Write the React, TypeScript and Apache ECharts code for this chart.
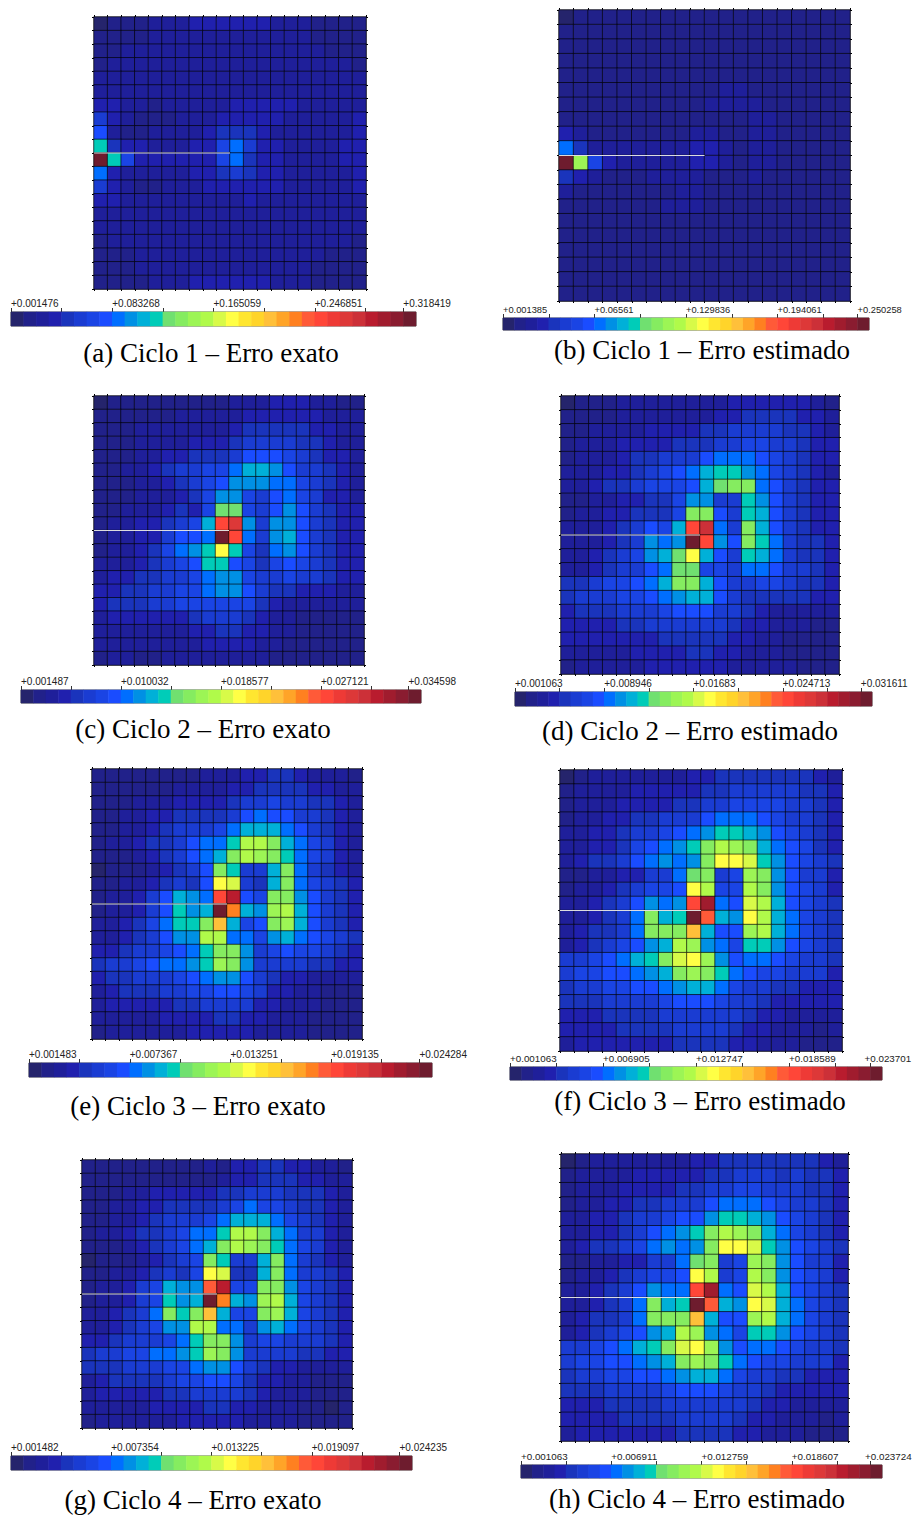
import React, { useEffect, useRef } from "react";
import * as echarts from "echarts";

const palette = [
  "#25246c", "#21218a", "#1f1f9a", "#2020ae", "#1a34bc", "#1a3cd2", "#1a44e4", "#1a4cff",
  "#006eff", "#0090e4", "#00b0d8", "#00ccb8", "#70e070", "#85ec60", "#9cf555", "#b0fa4a",
  "#d8fa48", "#ffff45", "#ffe630", "#ffd42a", "#ffc03a", "#ffa428", "#ff8020", "#ff5a38",
  "#ff4638", "#ee3a36", "#dd3838", "#cc3038", "#b91c2e", "#a01c2e", "#8a1c30", "#6e1c2e",
];

const captions = [
  "(a) Ciclo 1 – Erro exato", "(b) Ciclo 1 – Erro estimado",
  "(c) Ciclo 2 – Erro exato", "(d) Ciclo 2 – Erro estimado",
  "(e) Ciclo 3 – Erro exato", "(f) Ciclo 3 – Erro estimado",
  "(g) Ciclo 4 – Erro exato", "(h) Ciclo 4 – Erro estimado",
];

const tickLabels = [
  ["+0.001476", "+0.083268", "+0.165059", "+0.246851", "+0.318419"],
  ["+0.001385", "+0.06561", "+0.129836", "+0.194061", "+0.250258"],
  ["+0.001487", "+0.010032", "+0.018577", "+0.027121", "+0.034598"],
  ["+0.001063", "+0.008946", "+0.01683", "+0.024713", "+0.031611"],
  ["+0.001483", "+0.007367", "+0.013251", "+0.019135", "+0.024284"],
  ["+0.001063", "+0.006905", "+0.012747", "+0.018589", "+0.023701"],
  ["+0.001482", "+0.007354", "+0.013225", "+0.019097", "+0.024235"],
  ["+0.001063", "+0.006911", "+0.012759", "+0.018607", "+0.023724"],
];

// Colour band (0-31) of each cell, top row first.
const cicloA = [
  [0,1,1,1,2,2,2,3,3,3,3,3,3,2,2,2,1,1,1,1],
  [1,1,1,1,2,2,2,2,2,2,2,2,2,2,2,2,1,1,1,1],
  [1,1,2,2,2,2,2,2,2,2,2,2,2,2,2,2,2,1,1,1],
  [1,2,2,2,2,2,2,2,2,2,2,2,2,2,2,2,2,2,2,1],
  [2,2,2,2,2,2,2,2,2,2,2,2,2,2,2,2,2,2,2,2],
  [2,2,2,2,2,2,2,2,2,2,2,2,2,2,2,2,2,2,2,2],
  [3,3,2,2,1,2,2,2,2,2,3,3,3,3,3,2,2,2,2,2],
  [5,3,2,1,1,1,2,2,2,3,3,3,3,3,2,2,2,2,2,3],
  [7,2,1,1,2,2,2,2,3,4,4,4,3,2,2,2,2,2,2,3],
  [11,4,3,3,2,2,2,3,3,6,8,5,3,3,2,2,2,2,3,3],
  [31,11,6,3,3,3,3,3,3,6,8,4,3,3,2,2,2,2,3,3],
  [8,3,2,2,2,2,2,3,3,4,5,4,3,3,2,2,2,2,2,3],
  [5,3,2,1,1,2,2,2,3,3,3,3,3,3,2,2,2,2,2,3],
  [3,3,2,2,2,2,2,2,2,2,2,3,2,2,2,2,2,2,2,2],
  [2,2,2,2,2,2,2,2,2,2,2,2,2,2,2,2,2,2,2,2],
  [2,2,2,2,2,2,2,2,2,2,2,2,2,2,2,2,2,2,2,2],
  [1,2,2,2,2,2,2,2,2,2,2,2,2,2,2,2,2,2,2,1],
  [1,1,1,2,2,2,2,2,2,2,2,2,2,2,2,2,2,1,1,1],
  [1,1,1,2,2,2,2,2,2,2,2,2,2,2,2,2,1,1,1,1],
  [1,1,1,1,2,2,2,3,3,3,3,3,3,2,2,2,1,1,1,1],
];
const cicloB = [
  [0,1,1,1,1,1,1,1,1,1,1,1,1,1,1,1,1,1,1,1],
  [1,1,1,1,1,1,1,1,1,1,1,1,1,1,1,1,1,1,1,1],
  [1,1,1,1,1,1,1,1,1,1,1,1,1,1,1,1,1,1,1,1],
  [1,1,1,1,1,1,1,1,1,1,1,1,1,1,1,1,1,1,1,1],
  [1,1,1,1,1,1,1,1,1,1,1,1,1,1,1,1,1,1,1,1],
  [1,1,1,1,1,1,1,1,1,1,1,2,2,1,1,1,1,1,1,1],
  [1,1,1,1,1,1,1,1,1,1,2,2,2,2,1,1,1,1,1,1],
  [1,1,1,1,1,1,1,1,1,1,1,1,1,2,2,1,1,1,1,1],
  [3,2,1,1,1,1,1,1,1,2,2,1,1,2,2,1,1,1,1,1],
  [8,4,2,2,2,2,2,2,2,3,3,2,1,2,2,1,1,1,1,1],
  [31,14,6,3,2,2,2,2,2,3,3,2,1,2,2,1,1,1,1,1],
  [4,3,2,1,1,1,2,2,2,2,1,1,1,2,1,1,1,1,1,1],
  [2,1,1,1,1,1,1,1,2,2,1,1,1,1,1,1,1,1,1,1],
  [1,1,1,1,1,1,1,2,2,2,1,1,1,1,1,1,1,1,1,1],
  [1,1,1,1,1,1,1,1,1,1,1,1,1,1,1,1,1,1,1,1],
  [1,1,1,1,1,1,1,1,1,1,1,1,1,1,1,1,1,1,1,1],
  [1,1,1,1,1,1,1,1,1,1,1,1,1,1,1,1,1,1,1,1],
  [1,1,1,1,1,1,1,1,1,1,1,1,1,1,1,1,1,1,1,1],
  [1,1,1,1,1,1,1,1,1,1,1,1,1,1,1,1,1,1,1,1],
  [1,1,1,1,1,1,1,1,1,1,1,1,1,1,1,1,1,1,1,1],
];
const cicloC = [
  [0,1,1,1,1,1,1,1,1,1,2,2,2,3,3,3,2,2,1,1],
  [1,1,1,1,1,1,2,2,2,2,2,3,3,3,3,3,3,2,2,2],
  [1,1,1,2,2,2,2,2,2,2,3,4,4,4,4,4,3,3,2,2],
  [1,1,1,2,2,2,2,3,3,3,4,5,5,5,5,4,4,3,2,2],
  [1,1,1,2,2,3,3,4,4,4,5,7,7,7,6,5,4,3,3,2],
  [1,1,2,2,3,4,5,5,6,6,8,10,10,9,7,5,5,4,3,2],
  [1,1,1,2,2,3,4,5,6,7,9,9,9,8,8,6,5,4,3,2],
  [1,1,1,2,2,2,3,4,6,9,9,6,5,7,8,6,5,3,3,2],
  [1,1,2,2,2,3,4,3,6,12,12,6,5,7,9,7,5,4,3,3],
  [1,2,2,3,3,4,5,6,10,24,26,9,5,9,9,7,5,4,3,3],
  [1,2,2,3,3,5,7,7,8,31,24,8,5,9,10,7,5,4,3,3],
  [1,2,2,3,4,6,8,9,11,17,11,6,4,8,9,7,5,4,3,3],
  [2,2,2,3,4,5,6,7,11,11,7,6,4,6,7,6,5,4,3,3],
  [2,3,3,4,4,5,5,6,8,9,9,6,5,5,6,5,5,4,3,3],
  [3,3,4,4,5,5,6,6,8,9,9,7,5,4,4,3,3,3,2,2],
  [3,4,4,4,5,5,6,6,6,6,6,6,4,3,2,2,2,2,2,2],
  [2,3,3,3,3,3,3,4,5,5,5,4,3,2,2,1,1,1,1,1],
  [2,2,2,2,2,2,2,3,3,4,4,3,3,2,2,1,1,1,1,1],
  [2,2,2,2,2,2,2,2,3,3,3,3,2,2,1,1,1,1,1,1],
  [1,2,2,1,1,2,2,2,2,2,2,2,2,1,1,1,1,1,1,1],
];
const cicloD = [
  [0,1,1,1,2,2,2,2,2,2,2,2,3,3,3,3,3,3,2,1],
  [1,1,1,1,2,2,2,2,2,2,2,3,3,4,4,4,4,3,3,2],
  [1,1,2,2,2,2,3,3,3,3,4,4,5,5,5,5,4,4,3,2],
  [1,2,2,2,3,3,3,3,4,4,4,5,5,6,6,5,5,4,3,3],
  [1,2,2,2,3,4,4,5,5,5,7,8,8,8,7,6,5,4,3,3],
  [2,2,2,3,3,4,5,6,7,8,10,11,11,9,8,6,5,4,3,2],
  [2,2,3,4,4,5,6,6,6,7,10,12,13,13,8,7,5,4,3,3],
  [1,1,2,2,3,3,4,4,6,9,9,5,5,11,9,7,5,4,3,3],
  [1,2,2,3,3,4,4,4,6,13,13,7,5,11,10,7,5,4,3,3],
  [2,2,2,3,4,5,7,6,10,24,27,8,5,13,10,7,5,4,3,3],
  [2,2,2,3,4,5,9,8,9,31,24,9,7,13,11,8,5,4,4,3],
  [2,2,3,4,5,6,9,10,12,17,10,7,5,11,10,8,5,4,4,3],
  [2,2,3,4,5,5,7,8,12,12,6,6,5,8,8,7,5,5,4,3],
  [4,4,5,6,6,7,8,10,13,13,10,7,5,5,6,6,5,4,4,3],
  [4,5,5,5,6,6,7,8,9,10,10,7,5,4,4,4,4,4,3,3],
  [3,4,4,4,5,5,5,6,7,7,7,5,5,4,3,2,2,2,2,2],
  [3,3,3,3,4,4,5,5,5,5,5,5,4,3,3,2,2,2,1,1],
  [3,3,3,3,3,3,3,4,4,4,4,4,3,3,2,2,1,1,1,1],
  [2,2,2,2,2,3,3,3,3,4,4,3,3,2,2,2,1,1,1,1],
  [1,2,2,2,2,2,3,3,3,3,3,3,2,2,2,2,2,1,1,1],
];
const cicloE = [
  [1,1,1,1,1,1,1,1,2,2,2,3,3,4,4,3,2,2,2,1],
  [1,1,1,1,1,1,2,2,2,2,3,3,4,4,4,4,3,3,2,2],
  [1,1,1,2,2,2,3,3,3,3,4,5,5,6,5,5,4,4,3,2],
  [1,1,2,2,3,3,4,4,4,4,5,7,8,7,7,5,5,4,3,2],
  [1,1,2,2,3,4,5,5,5,6,8,10,10,10,8,7,5,4,3,2],
  [1,2,2,3,4,4,5,7,8,8,11,15,15,13,10,8,6,5,3,2],
  [1,1,1,2,3,4,5,7,8,10,13,15,14,13,11,8,6,5,3,2],
  [0,1,1,1,2,3,4,5,7,13,11,5,5,10,13,8,5,4,3,2],
  [1,1,2,2,3,4,5,4,7,17,16,5,4,10,13,8,6,5,4,3],
  [1,2,2,3,5,7,10,9,8,24,28,7,6,13,13,9,7,5,4,3],
  [1,2,2,3,5,7,11,9,10,31,22,10,9,14,15,10,7,5,4,3],
  [2,2,3,4,6,8,11,11,13,20,10,6,7,13,14,10,7,5,4,3],
  [2,2,3,4,5,7,9,9,15,15,8,8,6,9,10,8,7,6,5,4],
  [3,3,4,5,5,6,7,8,11,13,13,9,5,6,7,6,6,5,4,3],
  [4,5,5,6,7,8,8,9,11,14,13,9,5,5,5,5,4,4,3,3],
  [3,4,4,5,5,5,6,7,8,9,9,7,5,4,3,3,2,2,2,2],
  [2,3,4,4,4,5,5,6,6,7,7,6,5,3,3,2,2,1,1,1],
  [2,3,3,3,3,3,4,4,5,5,5,5,3,3,2,2,2,1,1,1],
  [2,2,2,2,2,3,3,3,3,4,4,3,3,2,2,2,1,1,1,1],
  [1,2,2,2,2,2,2,3,3,3,3,3,2,2,2,2,1,1,1,1],
];
const cicloF = [
  [0,1,2,2,2,2,2,2,2,3,3,4,4,4,4,4,4,4,3,2],
  [1,2,2,2,2,3,3,3,3,3,4,4,5,5,5,5,5,4,4,3],
  [1,2,2,2,3,3,3,3,4,4,5,5,6,6,6,6,5,5,4,3],
  [1,2,2,3,3,4,4,5,5,5,7,8,8,8,7,6,5,5,4,3],
  [2,2,3,3,4,5,5,6,7,8,9,11,11,10,9,7,6,5,4,3],
  [2,2,3,3,4,6,7,8,9,11,13,15,14,13,10,8,7,6,4,3],
  [2,3,4,4,5,7,8,9,8,9,13,17,17,16,11,9,7,6,5,4],
  [1,1,2,2,3,3,5,5,8,12,13,5,6,14,13,9,7,5,5,3],
  [1,2,2,3,4,5,6,6,7,17,15,6,6,15,13,9,7,6,5,3],
  [2,2,3,4,5,7,9,8,9,24,29,8,7,16,15,10,7,6,5,4],
  [2,2,3,4,5,8,13,10,11,31,23,10,9,17,15,10,8,6,5,4],
  [2,3,4,4,5,8,13,13,13,20,10,7,7,14,15,10,8,6,5,4],
  [2,3,4,5,6,7,9,10,15,14,9,8,6,11,11,9,7,6,5,4],
  [5,5,6,7,8,10,11,13,16,17,14,9,7,8,8,7,6,5,5,4],
  [5,6,6,7,7,8,9,10,13,14,13,11,8,7,6,6,5,5,5,3],
  [4,5,5,6,6,7,7,8,9,10,10,8,6,5,5,4,4,3,3,3],
  [4,4,4,5,5,5,5,6,7,7,7,6,5,5,4,3,3,3,3,3],
  [3,3,3,4,4,4,4,5,5,5,5,5,5,4,3,3,2,2,2,2],
  [3,3,3,3,4,4,4,4,5,5,5,5,4,3,3,2,2,2,1,2],
  [2,3,3,3,3,3,3,3,4,4,4,4,3,3,2,2,2,1,1,1],
];
const cicloG = [
  [1,1,1,1,1,1,1,1,1,2,1,3,3,4,4,3,3,2,2,1],
  [1,1,1,1,1,1,1,1,1,1,2,3,3,4,4,4,3,3,2,2],
  [1,1,1,2,2,3,3,3,3,3,4,4,5,5,5,4,4,4,3,2],
  [1,1,2,2,3,3,4,4,4,4,5,6,8,6,6,5,4,4,3,2],
  [1,1,2,2,3,4,5,5,5,6,8,10,10,10,8,6,5,4,3,2],
  [1,2,2,3,4,4,5,6,8,8,11,15,15,13,10,8,5,5,3,2],
  [1,1,1,2,3,4,5,6,8,10,13,15,14,13,11,8,6,5,3,2],
  [0,1,1,1,2,3,4,5,6,13,11,5,5,10,13,8,5,4,3,2],
  [1,1,2,2,3,4,5,4,6,17,16,4,4,10,13,8,5,5,4,3],
  [1,2,2,3,5,6,10,9,9,23,28,6,6,13,13,9,6,5,4,3],
  [1,2,2,3,5,6,11,9,10,31,22,10,9,14,15,10,6,5,4,3],
  [2,2,3,4,5,8,13,11,13,20,10,6,6,13,14,10,6,5,4,3],
  [2,2,3,4,5,6,9,9,15,15,8,8,5,9,10,8,6,5,4,3],
  [3,3,4,5,5,5,6,8,11,13,13,9,5,6,6,5,5,5,4,3],
  [4,5,5,6,6,8,8,9,11,14,13,9,5,5,5,5,4,4,3,3],
  [4,4,4,5,5,5,6,6,8,9,9,7,5,4,3,3,2,2,2,2],
  [2,3,4,4,4,4,5,6,6,7,7,6,4,3,3,2,2,1,1,1],
  [2,3,3,3,3,3,4,4,5,5,5,5,4,3,2,2,2,1,1,1],
  [2,2,2,2,2,3,3,3,3,4,4,3,3,2,2,2,1,1,0,1],
  [1,2,2,2,2,2,2,3,3,3,3,3,2,2,2,2,1,1,1,1],
];
const cicloH = [
  [0,1,2,2,2,2,2,2,2,3,3,4,4,4,4,4,4,4,3,2],
  [1,2,2,2,2,3,3,3,3,3,4,4,5,5,5,4,5,4,4,3],
  [1,2,2,2,3,3,3,3,4,4,5,5,6,6,5,5,5,4,4,3],
  [1,2,2,3,3,4,4,5,5,5,7,8,8,8,7,6,5,5,4,3],
  [2,2,3,3,4,5,5,6,7,7,9,11,11,10,9,7,6,5,4,3],
  [2,2,3,3,4,5,7,8,9,11,13,15,14,13,10,8,6,5,4,3],
  [2,3,4,4,5,6,8,9,8,9,13,17,17,16,11,9,7,6,5,4],
  [1,1,2,2,3,3,5,5,8,12,13,5,6,14,13,9,7,5,5,3],
  [1,2,2,3,4,5,6,6,7,17,15,5,6,15,13,9,7,6,5,3],
  [2,2,3,4,5,7,9,8,8,24,29,8,7,16,15,10,7,6,5,4],
  [2,2,3,4,5,8,13,10,11,31,23,10,9,17,16,10,8,6,5,4],
  [2,3,4,4,5,8,13,13,13,20,10,7,7,14,15,10,8,6,5,4],
  [2,3,4,5,6,7,9,10,15,14,9,8,6,11,11,9,7,6,5,4],
  [5,5,6,7,8,10,11,13,16,17,14,9,7,8,8,7,6,5,5,4],
  [5,6,6,7,7,8,9,10,13,14,13,11,8,7,6,6,5,5,5,3],
  [4,5,5,6,6,7,7,8,9,10,10,8,6,5,5,4,4,3,3,3],
  [4,4,4,5,5,5,5,6,7,7,7,6,5,5,4,3,3,3,3,3],
  [3,3,3,4,4,4,4,5,5,5,5,5,5,4,3,3,2,2,2,2],
  [3,3,3,3,4,4,4,4,5,5,5,5,4,3,3,2,2,2,1,2],
  [2,3,3,3,3,3,3,3,4,4,4,4,3,3,2,2,2,1,1,1],
];
const panelCells = [cicloA, cicloB, cicloC, cicloD, cicloE, cicloF, cicloG, cicloH];

// Crack drawn in white on every mesh, in cell units.
const crackX = [0, 10];
const crackY = [10, 10];

// Layout: [left, top, right, bottom] in page pixels.
const plotBoxes = [
  [94, 17, 366, 289], [559, 10, 850, 301],
  [94, 396, 364, 665], [561, 396, 839, 674],
  [92, 769, 362, 1039], [560, 770, 842, 1051],
  [82, 1160, 352, 1428], [561, 1154, 848, 1441],
];
const barBoxes = [
  [11, 312, 416, 326], [503, 318, 869, 330],
  [21, 690, 421, 703], [515, 692, 872, 706],
  [29, 1063, 432, 1077], [510, 1067, 882, 1080],
  [11, 1456, 412, 1470], [521, 1465, 882, 1478],
];
const captionSpots = [
  [211, 353], [702, 350], [203, 729], [690, 731],
  [198, 1106], [700, 1101], [193, 1500], [697, 1499],
];
const tickFontSizes = [10, 9.3, 10, 10, 10, 9.8, 10, 9.8];
// Where the last tick label starts, in bands along the bar: two panels pull it in from the page edge.
const lastLabelSpots = [31, 31, 31, 31, 31, 30.5, 31, 30.5];

const GRID_N = 20;
const BANDS = palette.length;
const LABEL_BANDS = [0, 8, 16, 24, 31];
const TICK_BANDS = [0, 4, 8, 12, 16, 20, 24, 28, 31];
const cellNames = Array.from({ length: GRID_N }, (_, i) => String(i));
const bandNames = palette.map((_, i) => String(i));
const TICK_FONT = '"Liberation Sans", Arial, sans-serif';
const CAPTION_FONT = '"Liberation Serif", "Times New Roman", serif';

function buildOption() {
  const grid: any[] = [];
  const xAxis: any[] = [];
  const yAxis: any[] = [];
  const series: any[] = [];
  const visualMap: any[] = [];
  const hide = { axisLabel: { show: false }, splitLine: { show: false } };

  panelCells.forEach((cells, p) => {
    const [pl, pt, pr, pb] = plotBoxes[p];
    const [bl, bt, br, bb] = barBoxes[p];
    const labels = tickLabels[p];
    const lo = parseFloat(labels[0]);
    const hi = parseFloat(labels[4]);
    const step = (hi - lo) / (BANDS - 1);
    const labelSpots = [...LABEL_BANDS.slice(0, 4), lastLabelSpots[p]];

    const plotGrid = grid.length;
    grid.push({ left: pl, top: pt, width: pr - pl, height: pb - pt, show: true, outerBoundsMode: "none", borderColor: "#9a9a9a", borderWidth: 1, backgroundColor: "transparent" });
    const barGrid = grid.length;
    grid.push({ left: bl, top: bt, width: br - bl, height: bb - bt, show: true, outerBoundsMode: "none", borderColor: "#555", borderWidth: 1, backgroundColor: "transparent" });

    const cellEdge = { show: true, length: 2, lineStyle: { color: "#000", width: 1 } };
    const plotLine = { show: true, lineStyle: { color: "#9a9a9a", width: 1 } };

    const xCell = xAxis.length;
    xAxis.push({ type: "category", gridIndex: plotGrid, data: cellNames, position: "bottom", axisLine: plotLine, axisTick: { ...cellEdge, interval: 0 }, ...hide });
    const xTop = xAxis.length;
    xAxis.push({ type: "value", gridIndex: plotGrid, min: 0, max: GRID_N, interval: 1, position: "top", axisLine: plotLine, axisTick: cellEdge, ...hide });
    const xBand = xAxis.length;
    xAxis.push({ type: "category", gridIndex: barGrid, data: bandNames, show: false });
    xAxis.push({
      type: "value", gridIndex: barGrid, position: "top",
      min: lo, max: lo + BANDS * step,
      axisLine: { show: false },
      axisTick: {
        show: true, length: 4, lineStyle: { color: "#333", width: 1 },
        customValues: TICK_BANDS.map((b) => lo + b * step),
      },
      axisLabel: {
        show: true, margin: 4, align: "left", fontSize: tickFontSizes[p], color: "#222", fontFamily: TICK_FONT,
        customValues: labelSpots.map((b) => lo + b * step),
        formatter: (v: number) => labels[LABEL_BANDS.indexOf(Math.round((v - lo) / step))],
      },
      splitLine: { show: false },
    });

    const yCell = yAxis.length;
    yAxis.push({ type: "category", gridIndex: plotGrid, data: cellNames, inverse: true, position: "left", axisLine: plotLine, axisTick: { ...cellEdge, interval: 0 }, ...hide });
    const yRight = yAxis.length;
    yAxis.push({ type: "value", gridIndex: plotGrid, min: 0, max: GRID_N, interval: 1, position: "right", axisLine: plotLine, axisTick: cellEdge, ...hide });
    const yBand = yAxis.length;
    yAxis.push({ type: "category", gridIndex: barGrid, data: ["0"], show: false });

    const heat = series.length;
    series.push({
      type: "heatmap", xAxisIndex: xCell, yAxisIndex: yCell, z: 1,
      data: cells.flatMap((row, r) => row.map((band, c) => [c, r, lo + band * step])),
      itemStyle: { borderColor: "rgba(0,0,0,0.7)", borderWidth: 0.9 },
      emphasis: { disabled: true },
    });
    series.push({
      type: "line", xAxisIndex: xTop, yAxisIndex: yRight, z: 5,
      data: crackX.map((x, i) => [x, crackY[i]]),
      symbol: "none", lineStyle: { color: "rgba(232,232,232,0.95)", width: 1 }, silent: true,
    });
    const bar = series.length;
    series.push({
      type: "heatmap", xAxisIndex: xBand, yAxisIndex: yBand, z: 1,
      data: palette.map((_, i) => [i, 0, lo + i * step]),
      emphasis: { disabled: true },
    });
    visualMap.push({ type: "continuous", show: false, min: lo, max: hi, dimension: 2, seriesIndex: [heat, bar], inRange: { color: palette } });
  });

  const graphic = captions.map((text, i) => ({
    type: "text", x: captionSpots[i][0], y: captionSpots[i][1], silent: true,
    style: { text, fill: "#000", font: `27px ${CAPTION_FONT}`, textAlign: "center", textVerticalAlign: "middle" },
  }));

  return { animation: false, backgroundColor: "#fff", tooltip: { show: false }, grid, xAxis, yAxis, series, visualMap, graphic };
}

export default function App() {
  const ref = useRef<HTMLDivElement>(null);
  useEffect(() => {
    const chart = echarts.init(ref.current!, undefined, { renderer: "svg" });
    chart.setOption(buildOption() as any);
    return () => chart.dispose();
  }, []);
  return <div ref={ref} style={{ position: "absolute", left: 0, top: 0, width: 912, height: 1515 }} />;
}
